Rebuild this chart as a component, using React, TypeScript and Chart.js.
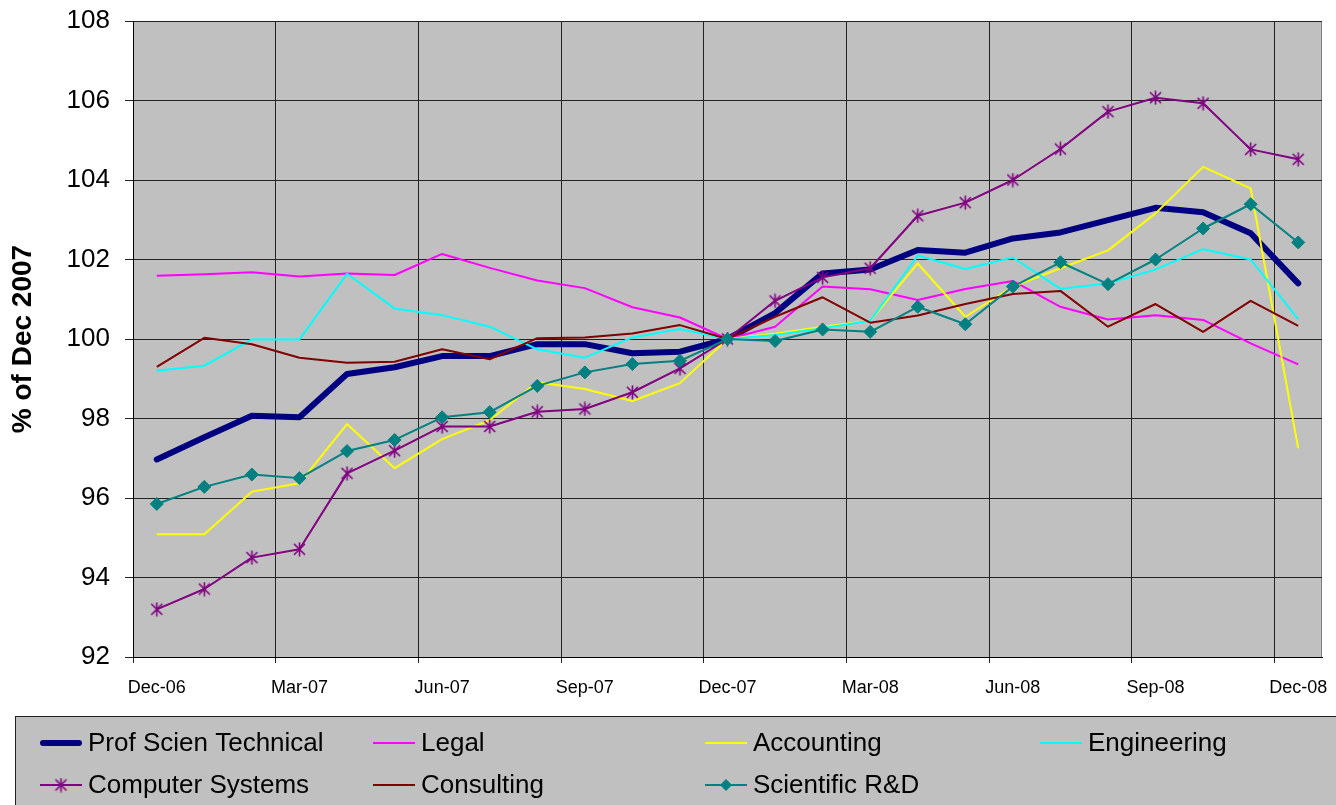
import React, { useEffect, useRef } from 'react';
import { Chart, registerables } from 'chart.js';

Chart.register(...registerables);

const MONTHS = [
  'Dec-06', 'Jan-07', 'Feb-07', 'Mar-07', 'Apr-07', 'May-07', 'Jun-07', 'Jul-07', 'Aug-07',
  'Sep-07', 'Oct-07', 'Nov-07', 'Dec-07', 'Jan-08', 'Feb-08', 'Mar-08', 'Apr-08', 'May-08',
  'Jun-08', 'Jul-08', 'Aug-08', 'Sep-08', 'Oct-08', 'Nov-08', 'Dec-08',
];

const X_TICK_LABELS = ['Dec-06', 'Mar-07', 'Jun-07', 'Sep-07', 'Dec-07', 'Mar-08', 'Jun-08', 'Sep-08', 'Dec-08'];
// tick marks sit on category boundaries every 3 months
const X_TICK_POSITIONS = [-0.5, 2.5, 5.5, 8.5, 11.5, 14.5, 17.5, 20.5, 23.5];

const Y_MIN = 92;
const Y_MAX = 108;
const Y_STEP = 2;

const profSciTech = [96.97, 97.53, 98.07, 98.03, 99.12, 99.29, 99.57, 99.57, 99.87, 99.87, 99.64, 99.68, 100, 100.65, 101.65, 101.75, 102.24, 102.17, 102.53, 102.68, 102.99, 103.3, 103.19, 102.66, 101.4];
const legal = [101.59, 101.63, 101.68, 101.57, 101.65, 101.61, 102.14, 101.79, 101.47, 101.28, 100.8, 100.54, 100, 100.31, 101.32, 101.25, 100.98, 101.26, 101.46, 100.81, 100.49, 100.6, 100.48, 99.89, 99.36];
const accounting = [95.09, 95.09, 96.16, 96.37, 97.86, 96.75, 97.48, 97.96, 98.91, 98.74, 98.44, 98.89, 100, 100.13, 100.31, 100.46, 101.9, 100.56, 101.32, 101.78, 102.23, 103.16, 104.33, 103.79, 97.25];
const engineering = [99.2, 99.33, 99.99, 99.99, 101.64, 100.77, 100.6, 100.31, 99.74, 99.53, 100.04, 100.25, 100, 100.1, 100.27, 100.46, 102.1, 101.76, 102.05, 101.26, 101.4, 101.75, 102.26, 102.0, 100.5];
const computerSystems = [93.2, 93.71, 94.5, 94.71, 96.62, 97.19, 97.8, 97.8, 98.17, 98.24, 98.66, 99.26, 100, 100.96, 101.55, 101.78, 103.1, 103.43, 104.0, 104.78, 105.72, 106.07, 105.93, 104.77, 104.52];
const consulting = [99.3, 100.03, 99.87, 99.53, 99.4, 99.43, 99.74, 99.49, 100.02, 100.04, 100.14, 100.35, 100, 100.56, 101.05, 100.41, 100.59, 100.88, 101.13, 101.21, 100.31, 100.88, 100.18, 100.96, 100.33];
const scientificRD = [95.85, 96.28, 96.59, 96.5, 97.18, 97.46, 98.03, 98.16, 98.82, 99.16, 99.37, 99.45, 100, 99.95, 100.24, 100.18, 100.81, 100.37, 101.32, 101.93, 101.38, 102.0, 102.78, 103.39, 102.43];

const FONT = '"Liberation Sans", Arial, Helvetica, sans-serif';

const LEGEND_COLS = [40, 373, 705, 1040];
const LEGEND_ROWS = [743, 785];

function makeStar(color: string): HTMLCanvasElement {
  const c = document.createElement('canvas');
  c.width = 15;
  c.height = 15;
  const g = c.getContext('2d')!;
  g.strokeStyle = color;
  g.lineWidth = 1.6;
  g.beginPath();
  g.moveTo(7.5, 0.5);
  g.lineTo(7.5, 14.5);
  g.moveTo(2, 2);
  g.lineTo(13, 13);
  g.moveTo(13, 2);
  g.lineTo(2, 13);
  g.stroke();
  return c;
}

const toXY = (arr: number[]) => arr.map((v, i) => ({ x: i, y: v }));

export default function App() {
  const ref = useRef<HTMLCanvasElement | null>(null);

  useEffect(() => {
    if (!ref.current) return;
    const star = makeStar('#800080');

    const plotBg = {
      id: 'plotBg',
      beforeDraw(chart: any) {
        const { ctx, chartArea: a } = chart;
        ctx.save();
        ctx.fillStyle = '#c0c0c0';
        ctx.fillRect(a.left, a.top, a.right - a.left, a.bottom - a.top);
        ctx.strokeStyle = '#808080';
        ctx.lineWidth = 1;
        ctx.beginPath();
        ctx.moveTo(a.left, a.top + 0.5);
        ctx.lineTo(a.right - 0.5, a.top + 0.5);
        ctx.lineTo(a.right - 0.5, a.bottom);
        ctx.stroke();
        ctx.restore();
      },
    };

    const legendPlugin = {
      id: 'boxLegend',
      afterDraw(chart: any) {
        const ctx = chart.ctx;
        ctx.save();
        ctx.fillStyle = '#c0c0c0';
        ctx.fillRect(15.5, 716.5, 1400, 120);
        ctx.strokeStyle = '#202020';
        ctx.lineWidth = 1;
        ctx.strokeRect(15.5, 716.5, 1400, 120);
        chart.data.datasets.forEach((ds: any, k: number) => {
          const x0 = LEGEND_COLS[k % 4];
          const y = LEGEND_ROWS[Math.floor(k / 4)];
          ctx.strokeStyle = ds.borderColor;
          ctx.lineWidth = ds.borderWidth;
          ctx.lineCap = ds.borderWidth > 3 ? 'round' : 'butt';
          ctx.beginPath();
          ctx.moveTo(x0 + (ds.borderWidth > 3 ? 3 : 0), y);
          ctx.lineTo(x0 + 42 - (ds.borderWidth > 3 ? 3 : 0), y);
          ctx.stroke();
          const mx = x0 + 21;
          if (ds.pointStyle === 'rectRot') {
            const r = 6;
            ctx.fillStyle = ds.pointBackgroundColor;
            ctx.beginPath();
            ctx.moveTo(mx, y - r);
            ctx.lineTo(mx + r, y);
            ctx.lineTo(mx, y + r);
            ctx.lineTo(mx - r, y);
            ctx.closePath();
            ctx.fill();
          } else if (ds.pointStyle && typeof ds.pointStyle === 'object') {
            const img = ds.pointStyle;
            ctx.drawImage(img, mx - img.width / 2, y - img.height / 2);
          }
          ctx.fillStyle = '#000';
          ctx.font = `26px ${FONT}`;
          ctx.textBaseline = 'middle';
          ctx.textAlign = 'left';
          ctx.fillText(ds.label, x0 + 48, y + 1);
        });
        ctx.restore();
      },
    };

    const line = (label: string, data: number[], color: string, width: number, order: number, extra: any = {}) => ({
      label,
      data: toXY(data),
      borderColor: color,
      backgroundColor: color,
      borderWidth: width,
      pointRadius: 0,
      tension: 0,
      order,
      borderJoinStyle: 'round',
      borderCapStyle: width > 3 ? 'round' : 'butt',
      ...extra,
    });

    const chart = new Chart(ref.current, {
      type: 'line',
      data: {
        datasets: [
          line('Prof Scien Technical', profSciTech, '#000080', 6, 7),
          line('Legal', legal, '#ff00ff', 2, 6),
          line('Accounting', accounting, '#ffff00', 2, 5),
          line('Engineering', engineering, '#00ffff', 2, 4),
          line('Computer Systems', computerSystems, '#800080', 2, 3, {
            pointStyle: star,
            pointRadius: 7,
          }),
          line('Consulting', consulting, '#800000', 2, 2),
          line('Scientific R&D', scientificRD, '#008080', 2, 1, {
            pointStyle: 'rectRot',
            pointRadius: 6.5,
            pointBackgroundColor: '#008080',
            pointBorderColor: '#008080',
            pointBorderWidth: 1,
          }),
        ] as any,
      },
      options: {
        responsive: false,
        animation: false,
        layout: { padding: { left: 0, top: 21, right: 14, bottom: 0 } },
        plugins: {
          legend: { display: false },
          tooltip: { enabled: false },
        },
        scales: {
          x: {
            type: 'linear',
            min: -0.5,
            max: 24.5,
            afterBuildTicks: (scale: any) => {
              scale.ticks = X_TICK_POSITIONS.map((v) => ({ value: v }));
            },
            afterFit: (scale: any) => {
              scale.height = 148;
              scale.paddingLeft = 0;
              scale.paddingRight = 0;
            },
            grid: { color: '#222222', lineWidth: 1, tickLength: 6 },
            border: { color: '#000000', width: 1 },
            ticks: {
              callback: (_v: any, i: number) => X_TICK_LABELS[i],
              labelOffset: 23.78,
              maxRotation: 0,
              autoSkip: false,
              color: '#000000',
              font: { family: FONT, size: 18 },
              padding: 14,
            },
          },
          y: {
            min: Y_MIN,
            max: Y_MAX,
            afterFit: (scale: any) => {
              scale.width = 133;
              scale.paddingTop = 0;
              scale.paddingBottom = 0;
            },
            grid: { color: '#222222', lineWidth: 1, tickLength: 8 },
            border: { color: '#000000', width: 1 },
            ticks: {
              stepSize: Y_STEP,
              color: '#000000',
              font: { family: FONT, size: 26 },
              padding: 15,
            },
            title: {
              display: true,
              text: '% of Dec 2007',
              color: '#000000',
              font: { family: FONT, size: 28, weight: 'bold' },
              padding: { top: 6, bottom: 0 },
            },
          },
        },
      } as any,
      plugins: [plotBg, legendPlugin],
    });

    return () => chart.destroy();
  }, []);

  return (
    <div style={{ position: 'absolute', left: 0, top: 0, width: 1336, height: 805, background: '#ffffff' }}>
      <canvas ref={ref} width={1336} height={805} />
    </div>
  );
}
